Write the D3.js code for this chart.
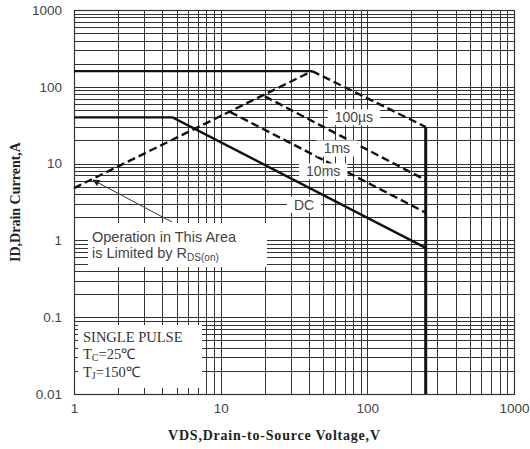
<!DOCTYPE html>
<html><head><meta charset="utf-8">
<script src="https://cdn.jsdelivr.net/npm/d3@7"></script>
<style>body{margin:0;background:#fff}svg{display:block}</style>
</head><body><svg id="c" width="530" height="449"></svg>
<script>
// ---- data ----
const xTicks = [1, 10, 100, 1000];
const yTicks = [0.01, 0.1, 1, 10, 100, 1000];
const xTickLabels = ["1", "10", "100", "1000"];
const yTickLabels = ["0.01", "0.1", "1", "10", "100", "1000"];
const currentLimit = [[1, 160], [42, 160]];            // pulsed current limit
const dcLine = [[1, 40], [4.7, 40], [250, 0.8]];       // DC
const rdsLine = [[1, 4.8], [42, 160]];                 // RDS(on) limit
const us100Line = [[42, 160], [250, 30]];              // 100us
const ms1Line = [[20, 75], [250, 6.1]];                // 1ms
const ms10Line = [[11.6, 47], [250, 2.3]];             // 10ms
const vdsLimit = [[250, 30], [250, 0.01]];             // BVdss
const curveLabels = [
  {text: "100\u00b5s", v: 81, i: 40},
  {text: "1ms", v: 62, i: 15.7},
  {text: "10ms", v: 50, i: 7.9},
  {text: "DC", v: 37, i: 2.9}
];

// ---- layout ----
const W = 530, H = 449;
const m = {l: 74, t: 10, r: 16, b: 55};
const pw = W - m.l - m.r, ph = H - m.t - m.b;
const svg = d3.select("#c");
const x = d3.scaleLog().domain([1, 1000]).range([m.l, m.l + pw]);
const y = d3.scaleLog().domain([0.01, 1000]).range([m.t + ph, m.t]);

// grid
const gridX = [], gridY = [];
for (let d = 1; d < 1000; d *= 10) for (let k = 1; k <= 9; k++) gridX.push(d * k);
gridX.push(1000);
for (let d = 0.01; d < 999; d *= 10) for (let k = 1; k <= 9; k++) gridY.push(+(d * k).toPrecision(3));
gridY.push(1000);
const g = svg.append("g");
g.selectAll("line.gx").data(gridX).join("line")
  .attr("x1", d => Math.round(x(d)) + 0.5).attr("x2", d => Math.round(x(d)) + 0.5)
  .attr("y1", m.t).attr("y2", m.t + ph)
  .attr("stroke", "#333").attr("stroke-width", 1);
g.selectAll("line.gy").data(gridY).join("line")
  .attr("y1", d => Math.round(y(d)) + 0.5).attr("y2", d => Math.round(y(d)) + 0.5)
  .attr("x1", m.l).attr("x2", m.l + pw)
  .attr("stroke", "#333").attr("stroke-width", 1);

// axis frame
svg.append("rect").attr("x", m.l + 0.5).attr("y", m.t + 0.5).attr("width", pw).attr("height", ph)
  .attr("fill", "none").attr("stroke", "#333").attr("stroke-width", 1.2);

// tick labels via axes
const yAxis = d3.axisLeft(y).tickValues(yTicks).tickSize(0).tickPadding(12)
  .tickFormat((d, i) => yTickLabels[i]);
const xAxis = d3.axisBottom(x).tickValues(xTicks).tickSize(0).tickPadding(9)
  .tickFormat((d, i) => xTickLabels[i]);
const ya = svg.append("g").attr("transform", `translate(${m.l},0)`).call(yAxis);
const xa = svg.append("g").attr("transform", `translate(0,${m.t + ph})`).call(xAxis);
[ya, xa].forEach(a => {
  a.select(".domain").remove();
  a.selectAll("text").attr("font-family", "'Liberation Sans', Arial, sans-serif")
    .attr("font-size", 13.5).attr("fill", "#444");
});

// curves
const line = d3.line().x(d => x(d[0])).y(d => y(d[1]));
const curves = [
  {d: currentLimit, dash: null},
  {d: dcLine, dash: null},
  {d: vdsLimit, dash: null, w: 3},
  {d: rdsLine, dash: "8,4"},
  {d: us100Line, dash: "8,4"},
  {d: ms1Line, dash: "8,4"},
  {d: ms10Line, dash: "8,4"}
];
svg.append("g").selectAll("path").data(curves).join("path")
  .attr("d", c => line(c.d)).attr("fill", "none").attr("stroke", "#111")
  .attr("stroke-width", c => c.w || 2.4).attr("stroke-dasharray", c => c.dash);

// curve labels with white boxes
const lf = "'Liberation Sans', Arial, sans-serif";
curveLabels.forEach(l => {
  const t = svg.append("text").attr("x", x(l.v)).attr("y", y(l.i)).attr("dy", "0.35em")
    .attr("text-anchor", "middle").attr("font-family", lf).attr("font-size", 14)
    .attr("fill", "#444").text(l.text);
  const b = t.node().getBBox();
  svg.insert("rect", () => t.node()).attr("x", b.x - 7).attr("y", b.y)
    .attr("width", b.width + 14).attr("height", b.height).attr("fill", "#fff");
});

// "Operation in This Area" note
svg.append("rect").attr("x", 88).attr("y", 223).attr("width", 179).attr("height", 44).attr("fill", "#fff");
const op = svg.append("text").attr("font-family", lf).attr("font-size", 14.5).attr("fill", "#444");
op.append("tspan").attr("x", 92).attr("y", 242).text("Operation in This Area");
const l2 = svg.append("text").attr("font-family", lf).attr("font-size", 14.5).attr("fill", "#444")
  .attr("x", 92).attr("y", 258);
l2.append("tspan").text("is Limited by R");
l2.append("tspan").attr("font-size", 10).attr("dy", 3).text("DS(on)");
// arrow
svg.append("defs").append("marker").attr("id", "ah").attr("viewBox", "0 0 10 10")
  .attr("refX", 9).attr("refY", 5).attr("markerWidth", 9).attr("markerHeight", 7)
  .attr("orient", "auto").append("path").attr("d", "M0,0L10,5L0,10z").attr("fill", "#222");
svg.append("line").attr("x1", 172).attr("y1", 222).attr("x2", x(1.35)).attr("y2", y(6.1))
  .attr("stroke", "#333").attr("stroke-width", 1).attr("marker-end", "url(#ah)");

// SINGLE PULSE box
svg.append("rect").attr("x", 78).attr("y", 325).attr("width", 124).attr("height", 63).attr("fill", "#fff");
const sf = "'Liberation Serif', 'Times New Roman', serif";
svg.append("text").attr("x", 83).attr("y", 342).attr("font-family", sf).attr("font-size", 14.5)
  .attr("fill", "#333").text("SINGLE PULSE");
const t1 = svg.append("text").attr("x", 83).attr("y", 359).attr("font-family", sf).attr("font-size", 14.5).attr("fill", "#333");
t1.append("tspan").text("T");
t1.append("tspan").attr("font-size", 10).attr("dy", 2).text("C");
t1.append("tspan").attr("dy", -2).text("=25\u2103");
const t2 = svg.append("text").attr("x", 83).attr("y", 377).attr("font-family", sf).attr("font-size", 14.5).attr("fill", "#333");
t2.append("tspan").text("T");
t2.append("tspan").attr("font-size", 10).attr("dy", 2).text("J");
t2.append("tspan").attr("dy", -2).text("=150\u2103");

// axis titles
svg.append("text").attr("x", 274).attr("y", 440).attr("text-anchor", "middle")
  .attr("font-family", sf).attr("font-weight", "bold").attr("font-size", 14)
  .attr("textLength", 212).attr("fill", "#222").text("VDS,Drain-to-Source Voltage,V");
svg.append("text").attr("transform", "translate(20,202) rotate(-90)").attr("text-anchor", "middle")
  .attr("font-family", sf).attr("font-weight", "bold").attr("font-size", 14)
  .attr("fill", "#222").text("ID,Drain Current,A");
</script></body></html>
